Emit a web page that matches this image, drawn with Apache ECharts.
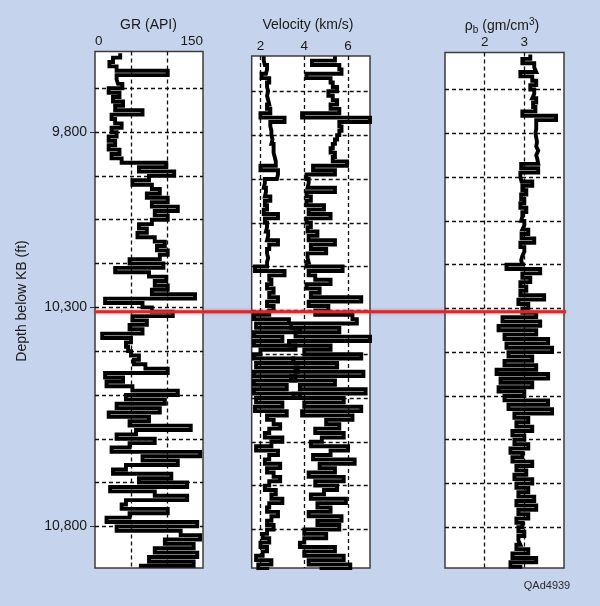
<!DOCTYPE html>
<html><head><meta charset="utf-8">
<script src="https://cdn.jsdelivr.net/npm/echarts@6.0.0/dist/echarts.min.js"></script>
<style>html,body{margin:0;padding:0;background:#c5d3ec;}#c{width:600px;height:606px;}</style>
</head><body><div id="c"></div>
<script>
// depth samples (relative depth units; gridlines every 100)
const depth = [20,30,40,50,60,70,80,90,100,110,
120,130,140,150,160,170,180,190,200,210,
220,230,240,250,260,270,280,290,300,310,
320,330,340,350,360,370,380,390,400,410,
420,430,440,450,460,470,480,490,500,510,
520,530,540,550,560,570,580,590,600,610,
620,630,640,650,660,670,680,690,700,710,
720,730,740,750,760,770,780,790,800,810,
820,830,840,850,860,870,880,890,900,910,
920,930,940,950,960,970,980,990,1000,1010,
1020,1030,1040,1050,1060,1070,1080,1090,1100,1110,
1120,1130,1140,1150,1160,1170,1180,1190];

const grAPI = [35,25,20,30,101,30,32,38,19,34,
25,39,28,66,23,28,37,23,30,19,
28,19,34,23,37,99,61,110,75,52,
79,90,72,101,79,115,83,101,79,61,
72,59,83,97,86,101,90,48,95,28,
75,99,83,101,79,139,14,66,79,108,
52,72,48,66,10,50,43,46,50,61,
54,70,101,14,39,16,52,115,43,97,
30,90,19,75,48,133,57,30,83,48,
23,146,66,115,43,25,106,61,128,21,
83,128,43,37,101,48,16,142,30,119,
146,97,137,83,142,75,137,61];

const vsKms = [2.15,2.2,2.3,2.25,2.05,2.4,2.3,2.35,2.3,2.35,
2.4,2.3,2.45,2.0,3.1,2.45,2.5,2.5,2.55,2.5,
2.6,2.6,2.65,2.7,2.7,2.0,2.8,2.75,2.2,2.15,
2.25,2.2,2.45,2.2,2.3,2.15,2.8,2.2,2.3,2.25,
2.35,2.3,2.8,2.4,2.3,2.35,2.3,2.3,1.75,3.1,
2.4,2.5,2.3,2.6,2.4,2.8,2.3,2.6,2.4,1.7,
3.3,1.8,3.8,1.7,3.0,1.7,3.6,2.0,1.7,3.5,
1.8,3.7,1.7,3.6,1.7,3.2,1.7,3.8,1.8,3.0,
1.75,3.2,2.3,2.6,2.9,2.4,2.2,3.0,2.5,1.8,
2.8,2.4,2.2,2.9,2.3,2.6,2.9,2.4,2.2,2.7,
2.5,3.0,2.4,2.3,2.8,2.5,2.3,2.6,2.3,2.1,
2.4,2.0,2.3,2.1,1.8,2.5,1.9,2.4];

const vpKms = [5.4,4.35,5.6,5.7,4.1,5.2,5.3,5.5,5.1,5.3,
5.5,5.2,5.6,3.9,7.0,5.6,5.7,5.6,5.5,5.4,
5.3,5.2,5.4,5.3,5.95,4.4,5.4,4.1,4.2,4.15,
5.4,4.1,4.3,4.1,4.9,4.2,5.2,4.1,4.3,4.15,
4.6,4.2,5.4,4.3,5.0,4.15,4.2,4.1,5.75,4.2,
4.5,5.2,4.1,4.7,4.3,6.6,4.2,5.1,4.5,6.2,
6.4,3.4,5.6,3.6,7.0,3.3,5.2,4.0,6.6,3.5,
5.5,3.6,6.7,3.4,5.4,3.8,6.8,3.5,5.8,4.0,
6.6,3.9,6.2,5.0,5.6,4.5,5.8,4.8,4.3,6.0,
5.2,4.4,6.3,4.7,5.4,4.2,5.8,4.5,5.5,4.9,
4.3,5.9,4.6,5.2,4.2,5.7,4.6,5.6,4.0,5.0,
4.0,3.8,5.4,4.0,5.8,4.2,6.1,4.7];

const rhoB = [3.15,2.95,3.25,3.3,2.9,3.2,3.3,3.15,3.25,3.2,
3.3,3.22,3.28,2.95,3.8,3.3,3.3,3.28,3.3,3.32,
3.3,3.35,3.3,3.33,3.35,2.92,3.35,2.9,2.93,3.2,
2.95,3.05,2.92,3.0,2.9,3.05,2.95,2.92,3.0,2.95,
3.1,2.93,3.25,2.9,3.0,2.95,2.92,2.95,2.55,3.4,
2.95,3.15,2.9,3.05,2.9,3.5,2.85,3.1,2.95,3.3,
2.45,3.4,2.35,3.3,2.5,3.6,2.55,3.7,2.6,3.2,
2.5,3.3,2.3,3.6,2.4,3.2,2.35,3.0,2.5,3.6,
2.6,3.7,2.75,3.1,2.8,3.2,2.7,3.0,2.75,3.1,
2.65,2.95,2.7,3.2,2.8,3.05,2.75,3.2,2.8,3.1,
2.85,3.25,2.8,3.3,2.85,3.1,2.8,2.95,2.85,3.0,
2.85,2.9,2.8,3.1,2.7,3.3,2.65,2.95];

const depthGridlines = [100,200,300,400,500,600,700,800,900,1000,1100];
const depthTickAt = [200,600,1100];
const depthTickLabels = ['9,800','10,300','10,800'];
const grTickLabels = [0,150];
const grGridlines = [50,100];
const velTickLabels = [2,4,6];
const rhoTickLabels = [2,3];
const markerDepth = 610;

const FONT = 'Liberation Sans, Arial, sans-serif';
const TXT = '#1a1a1a';
const chart = echarts.init(document.getElementById('c'), null, {renderer:'canvas'});

function pairs(vals){ return depth.map((d,i)=>[vals[i], d]); }
function gridSeries(idx, xLines){
  return {type:'line', xAxisIndex:idx, yAxisIndex:idx, data:[], z:1, silent:true,
    markLine:{silent:true, z:1, symbol:['none','none'], label:{show:false}, animation:false,
      lineStyle:{color:'#111', width:1.3, type:[4,3]},
      emphasis:{disabled:true},
      data: depthGridlines.map(d=>({yAxis:d})).concat(xLines.map(v=>({xAxis:v})))}};
}
function logSeries(idx, vals){
  return {type:'line', xAxisIndex:idx, yAxisIndex:idx, data:pairs(vals), step:'start',
    symbol:'none', showSymbol:false, z:5, animation:false, silent:true,
    lineStyle:{color:'#000', width:3.9, join:'miter', cap:'butt'}};
}
const gridBase = {show:true, backgroundColor:'#fff', borderColor:'#3c3c3c', borderWidth:1.5, containLabel:false};
const xBase = {type:'value', position:'top', axisLine:{show:false}, axisTick:{show:false}, splitLine:{show:false}};
const labelStyle = {color:TXT, fontSize:13.5, fontFamily:FONT, margin:3};

chart.setOption({
  backgroundColor:'#c5d3ec',
  animation:false,
  grid:[
    Object.assign({left:95, top:51.5, width:108, height:516.5}, gridBase),
    Object.assign({left:251.7, top:56, width:118.3, height:512}, gridBase),
    Object.assign({left:445, top:52.5, width:119, height:515.5}, gridBase)
  ],
  xAxis:[
    Object.assign({gridIndex:0, min:0, max:150, axisLabel:Object.assign({customValues:grTickLabels, alignMinLabel:'left', alignMaxLabel:'right'}, labelStyle)}, xBase),
    Object.assign({gridIndex:1, min:1.6, max:7.0, axisLabel:Object.assign({customValues:velTickLabels}, labelStyle)}, xBase),
    Object.assign({gridIndex:2, min:1, max:4, axisLabel:Object.assign({customValues:rhoTickLabels}, labelStyle)}, xBase)
  ],
  yAxis:[
    {gridIndex:0, type:'value', inverse:true, min:16, max:1195, axisLine:{show:false}, splitLine:{show:false},
     axisTick:{show:true, customValues:depthTickAt, length:5, lineStyle:{color:'#333', width:1}},
     axisLabel:{customValues:depthTickAt, color:TXT, fontSize:14, fontFamily:FONT, margin:8,
       formatter:v=>{const i=depthTickAt.indexOf(v); return i>=0?depthTickLabels[i]:'';}}},
    {gridIndex:1, type:'value', inverse:true, min:19.4, max:1188, show:false},
    {gridIndex:2, type:'value', inverse:true, min:15.5, max:1193, show:false}
  ],
  series:[
    gridSeries(0, grGridlines),
    gridSeries(1, velTickLabels),
    gridSeries(2, rhoTickLabels),
    logSeries(0, grAPI),
    logSeries(1, vsKms),
    logSeries(1, vpKms),
    logSeries(2, rhoB)
  ]
});

const yRed = chart.convertToPixel({yAxisIndex:0}, markerDepth);
const xStart = chart.convertToPixel({xAxisIndex:0}, 0);
const xEnd = chart.convertToPixel({xAxisIndex:2}, 4);

chart.setOption({
  graphic:[
    {type:'line', z:100, shape:{x1:xStart, y1:yRed, x2:xEnd+2, y2:yRed},
     style:{stroke:'#d8292c', lineWidth:3, shadowBlur:3, shadowColor:'rgba(230,60,60,0.7)'}},
    {type:'text', x:148.5, y:25, z:100, style:{text:'GR (API)', font:'14px '+FONT, fill:TXT, textAlign:'center', textVerticalAlign:'middle'}},
    {type:'text', x:308, y:25, z:100, style:{text:'Velocity (km/s)', font:'14px '+FONT, fill:TXT, textAlign:'center', textVerticalAlign:'middle'}},
    {type:'text', x:502, y:26, z:100, style:{text:'{a|ρ}{s|b}{a| (gm/cm}{p|3}{a|)}', fill:TXT, textAlign:'center', textVerticalAlign:'middle',
      rich:{a:{fontSize:14, fontFamily:FONT, lineHeight:18, verticalAlign:'middle', fill:TXT},
            s:{fontSize:10, fontFamily:FONT, lineHeight:10, verticalAlign:'bottom', fill:TXT},
            p:{fontSize:10, fontFamily:FONT, lineHeight:10, verticalAlign:'top', fill:TXT}}}},
    {type:'text', x:22, y:301, rotation:Math.PI/2, z:100, style:{text:'Depth below KB (ft)', font:'14px '+FONT, fill:TXT, textAlign:'center', textVerticalAlign:'middle'}},
    {type:'text', x:547, y:586, z:100, style:{text:'QAd4939', font:'11px '+FONT, fill:'#2a2a2a', textAlign:'center', textVerticalAlign:'middle'}}
  ]
});
</script></body></html>
